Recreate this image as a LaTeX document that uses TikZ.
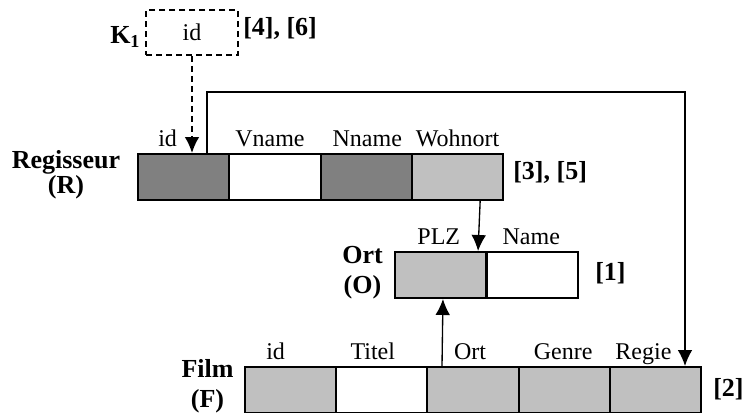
\documentclass[tikz,border=0pt]{standalone}
\usepackage{fontspec}
\setmainfont{Liberation Serif}
\usetikzlibrary{arrows.meta}

\definecolor{darkcell}{HTML}{808080}
\definecolor{lightcell}{HTML}{C0C0C0}

\begin{document}
\begin{tikzpicture}[x=0.75pt,y=0.75pt,>/.tip={Latex[length=12pt,width=11pt]},
	cell/.style={draw,line width=1.5pt,inner sep=0pt,minimum width=68.5pt,minimum height=34.5pt},
	keybox/.style={draw,line width=1.3pt,dash pattern=on 4.5pt off 3pt,inner sep=0pt,
		minimum width=69pt,minimum height=33.75pt,font=\fontsize{18pt}{22pt}\selectfont},
	attr/.style={anchor=base,inner sep=0pt,font=\fontsize{18pt}{22pt}\selectfont},
	rel/.style={inner sep=0pt,align=center,font=\fontsize{19.5pt}{22.5pt}\selectfont\bfseries},
	link/.style={->,line width=1pt}]
\useasboundingbox (0,0) rectangle (748,412);
\clip (0,0) rectangle (748,412);
% tables
\foreach \i/\c in {1/darkcell,2/white,3/darkcell,4/lightcell}
	\draw (91.3*\i+92.35,235) node[cell,fill=\c] (r\i) {};
\foreach \i/\c in {1/lightcell,2/white}
	\draw (91.5*\i+349.25,137) node[cell,fill=\c] (o\i) {};
\foreach \i/\c in {1/lightcell,2/white,3/lightcell,4/lightcell,5/lightcell}
	\draw (91.2*\i+199.4,22) node[cell,fill=\c] (f\i) {};
% column names
\foreach \c/\t/\d in {r1/id/-16,r2/Vname/-5,r3/Nname/1,r4/Wohnort/0,o1/PLZ/-2,o2/Name/-1,
		f1/id/-15,f2/Titel/-9,f3/Ort/-3,f4/Genre/-1,f5/Regie/-12}
	\draw ([shift={(\d,7)}]\c.north) node[attr] (\c t) {\t};
% relation names (base = last line)
\draw (66,218.3) node[rel,anchor=base,font=\fontsize{19.5pt}{15.4pt}\selectfont\bfseries] (regisseur) {Regisseur\\(R)};
\draw (362.5,118.3) node[rel,anchor=base] (ort) {Ort\\(O)};
\draw (207.5,5) node[rel,anchor=base] (film) {Film\\(F)};
\draw (513,233) node[rel,anchor=base west] (refr) {[3], [5]};
\draw (595,131.5) node[rel,anchor=base west] (refo) {[1]};
\draw (713,15.5) node[rel,anchor=base west] (reff) {[2]};
% key
\draw (192,379.5) node[keybox] (key) {id};
\draw (110,369) node[rel,anchor=base west] (k1) {K\textsubscript{1}};
\draw (243,376.5) node[rel,anchor=base west] (refk) {[4], [6]};
% references
\draw[link,line width=1.3pt,dash pattern=on 4.5pt off 3pt] (key.south) -- (key.south |- r1.north);
\draw[link] ([shift={(23.4,0)}]r1.north) -- ++(0,61) -| ([shift={(29.6,0)}]f5.north);
\draw[link] ([shift={(22.6,0)}]r4.south) -- ([shift={(37.3,0)}]o1.north);
\draw[link] ([shift={(-31,0)}]f3.north) -- ([shift={(2.2,0)}]o1.south);
\end{tikzpicture}
\end{document}
